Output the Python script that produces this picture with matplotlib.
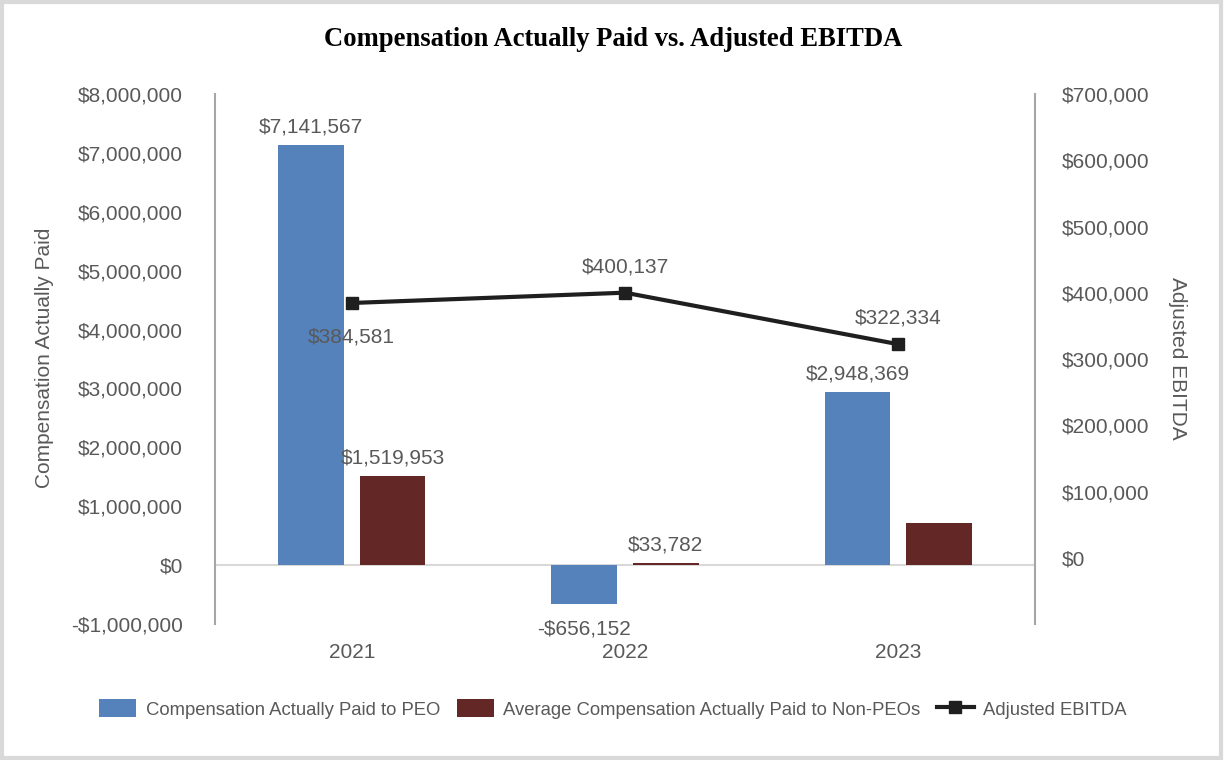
import matplotlib.pyplot as plt
import numpy as np
from matplotlib.ticker import FuncFormatter

plt.rcParams['font.family'] = ['Liberation Sans', 'DejaVu Sans']

years = ["2021", "2022", "2023"]
peo_cap = [7141567, -656152, 2948369]
non_peo_cap = [1519953, 33782, 713000]
ebitda = [384581, 400137, 322334]

# labels shown on the chart (2023 non-PEO has none)
peo_labels = ["$7,141,567", "-$656,152", "$2,948,369"]
non_peo_labels = ["$1,519,953", "$33,782", ""]
ebitda_labels = ["$384,581", "$400,137", "$322,334"]

blue = "#5582BA"
dark_red = "#632726"
txt = "#595959"
gray = "#A6A6A6"


def money(v, pos):
    if v < 0:
        return "-${:,.0f}".format(-v)
    return "${:,.0f}".format(v)


fig = plt.figure(figsize=(12.26, 7.6), dpi=100)
ax = fig.add_axes([0.1754, 0.1789, 0.6688, 0.6974])
ax2 = ax.twinx()

x = np.arange(len(years))
w = 0.24
off = 0.149

b1 = ax.bar(x - off, peo_cap, w, color=blue, label="Compensation Actually Paid to PEO", zorder=3)
b2 = ax.bar(x + off, non_peo_cap, w, color=dark_red,
            label="Average Compensation Actually Paid to Non-PEOs", zorder=3)

for i in range(len(years)):
    v = peo_cap[i]
    if v >= 0:
        ax.annotate(peo_labels[i], (x[i] - off, v), xytext=(0, 6), textcoords="offset points",
                    ha="center", va="bottom", fontsize=15, color=txt)
    else:
        ax.annotate(peo_labels[i], (x[i] - off, v), xytext=(0, -11), textcoords="offset points",
                    ha="center", va="top", fontsize=15, color=txt)
    if non_peo_labels[i]:
        ax.annotate(non_peo_labels[i], (x[i] + off, non_peo_cap[i]), xytext=(0, 6),
                    textcoords="offset points", ha="center", va="bottom", fontsize=15, color=txt)

ax.axhline(0, color="#D9D9D9", lw=1.5, zorder=2)
ax.set_xlim(-0.5, 2.5)
ax.set_ylim(-1000000, 8000000)
ax.set_yticks(np.arange(-1000000, 8000001, 1000000))
ax.yaxis.set_major_formatter(FuncFormatter(money))
ax.set_xticks(x)
ax.set_xticklabels(years)
ax.tick_params(axis="y", length=0, labelsize=15, colors=txt, pad=23)
ax.tick_params(axis="x", length=0, labelsize=15, colors=txt, pad=14)

line, = ax2.plot(x, ebitda, color="#1F1F1F", lw=3, marker="s", markersize=9,
                 label="Adjusted EBITDA", zorder=4)
ax2.set_ylim(-100000, 700000)
ax2.set_yticks(np.arange(0, 700001, 100000))
ax2.yaxis.set_major_formatter(FuncFormatter(money))
ax2.tick_params(axis="y", length=0, labelsize=15, colors=txt, pad=19)

ax2.annotate(ebitda_labels[0], (x[0], ebitda[0]), xytext=(0, -18), textcoords="offset points",
             ha="center", va="top", fontsize=15, color=txt)
ax2.annotate(ebitda_labels[1], (x[1], ebitda[1]), xytext=(0, 12), textcoords="offset points",
             ha="center", va="bottom", fontsize=15, color=txt)
ax2.annotate(ebitda_labels[2], (x[2], ebitda[2]), xytext=(0, 12), textcoords="offset points",
             ha="center", va="bottom", fontsize=15, color=txt)

for a in (ax, ax2):
    for s in ("top", "bottom"):
        a.spines[s].set_visible(False)
ax.spines["right"].set_visible(False)
ax2.spines["left"].set_visible(False)
ax.spines["left"].set_color(gray)
ax.spines["left"].set_linewidth(1.5)
ax2.spines["right"].set_color(gray)
ax2.spines["right"].set_linewidth(1.5)

# axis titles
fig.text(45 / 1226, 1 - 358 / 760, "Compensation Actually Paid", rotation=90,
         ha="center", va="center", fontsize=15, color=txt)
fig.text(1178 / 1226, 1 - 358 / 760, "Adjusted EBITDA", rotation=270,
         ha="center", va="center", fontsize=15, color=txt)

fig.text(0.5, 1 - 40 / 760, "Compensation Actually Paid vs. Adjusted EBITDA",
         ha="center", va="center", fontsize=19.2, fontweight="bold",
         family="Liberation Serif", color="black")

fig.legend(handles=[b1, b2, line], loc="center", bbox_to_anchor=(0.5, 1 - 709 / 760), ncol=3,
           frameon=False, fontsize=13.3, labelcolor=txt, handlelength=2.0, handleheight=1.1,
           handletextpad=0.5, columnspacing=0.9)

# light gray frame around the whole figure
fig.add_artist(plt.Rectangle((0.002, 0.003), 0.994, 0.994, transform=fig.transFigure,
                             fill=False, edgecolor="#D9D9D9", lw=3))

fig.savefig("out.png", dpi=100)
